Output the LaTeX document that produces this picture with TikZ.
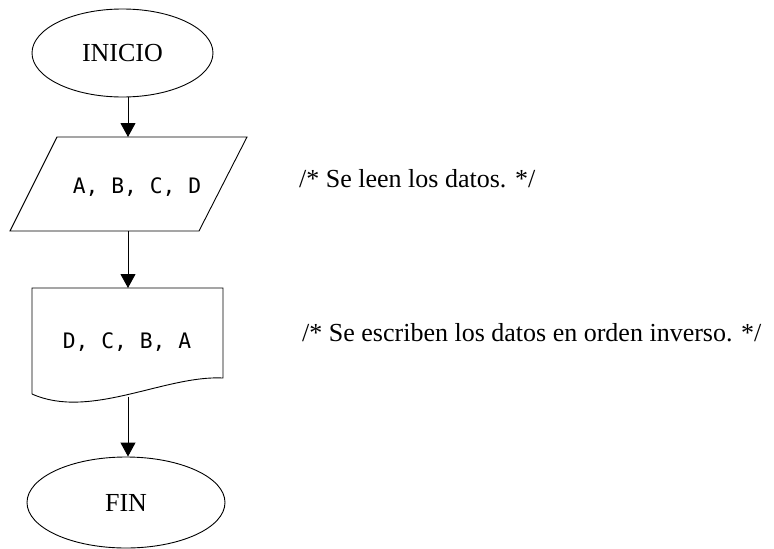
\documentclass[tikz,border=0pt]{standalone}
\usepackage{fontspec}
\setmainfont{Liberation Serif}
\newfontfamily\codefont{DejaVu Sans Mono}
\usetikzlibrary{shapes.geometric,arrows.meta}
\tikzset{
  term/.style={ellipse, draw, line width=0.9pt, inner sep=0pt,
    font=\fontsize{26}{30}\selectfont},
  code/.style={inner sep=0pt, anchor=base, font=\codefont\fontsize{21.3}{26}\selectfont},
  comment/.style={inner sep=0pt, anchor=base west, font=\fontsize{26}{30}\selectfont},
  shapeline/.style={line width=0.9pt},
  arr/.style={line width=0.9pt, -{Triangle[length=14pt,width=15pt]}},
  plain/.style={line width=0.9pt}
}
\begin{document}
\begin{tikzpicture}[x=1pt,y=-1pt]
\useasboundingbox (0,0) rectangle (774,549);
% terminals
\node[term, minimum width=181pt, minimum height=88pt] (inicio) at (122.5,53) {INICIO};
\node[term, minimum width=198pt, minimum height=91pt] (fin) at (126,502.5) {FIN};
% input parallelogram
\coordinate (p1) at (57,137);
\coordinate (p2) at (247,137);
\coordinate (p3) at (199,231);
\coordinate (p4) at (10,231);
\draw[shapeline] (p1) -- (p2) -- (p3) -- (p4) -- cycle;
\node[code] (abcd) at (137,193) {A, B, C, D};
% document shape
\coordinate (d1) at (32,288);
\coordinate (d2) at (223,288);
\coordinate (d3) at (223,378);
\coordinate (d4) at (32,394);
\draw[shapeline] (d4) -- (d1) -- (d2) -- (d3)
  .. controls (165,375) and (90,420) .. (d4);
\node[code] (dcba) at (127,348) {D, C, B, A};
% connector axis
\coordinate (axis) at (128,0);
\coordinate (ptop) at (128,137);
\coordinate (pbot) at (128,231);
\coordinate (dtop) at (128,288);
\coordinate (dbot) at (128,396.5);
% connectors
\draw[arr] (inicio.south -| axis) -- (ptop);
\draw[arr] (pbot) -- (dtop);
\draw[arr] (dbot) -- (fin.north -| axis);
% comments
\node[comment] (c1) at (299,187) {/* Se leen los datos. */};
\node[comment] (c2) at (302,341) {/* Se escriben los datos en orden inverso. */};
\end{tikzpicture}
\end{document}
